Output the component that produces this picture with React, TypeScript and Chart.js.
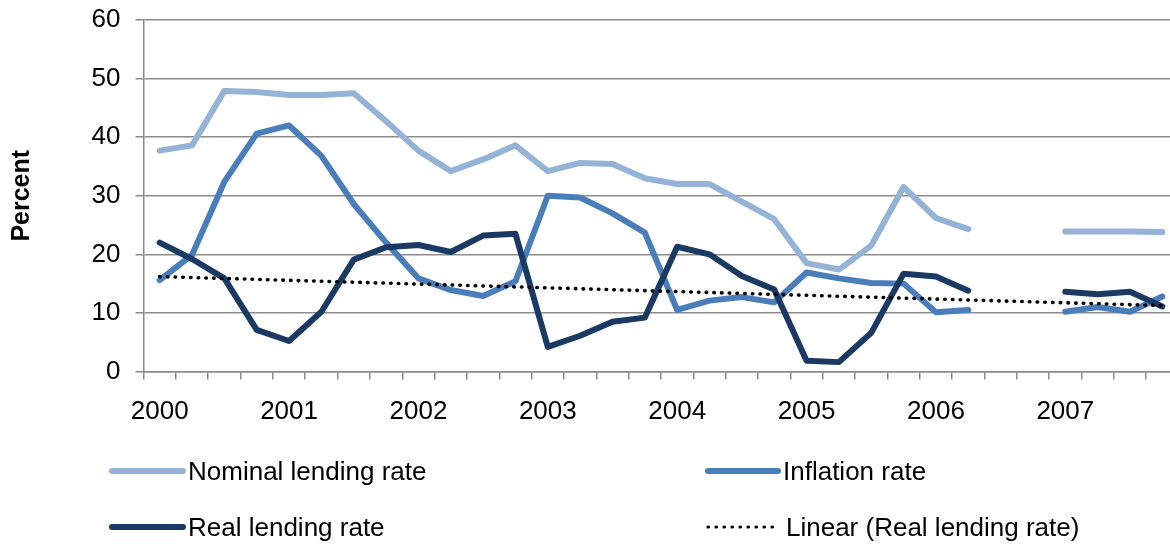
import React, { useEffect, useRef } from 'react';
import { Chart, registerables } from 'chart.js';

Chart.register(...registerables);

const categories = [
  '2000Q1', '2000Q2', '2000Q3', '2000Q4',
  '2001Q1', '2001Q2', '2001Q3', '2001Q4',
  '2002Q1', '2002Q2', '2002Q3', '2002Q4',
  '2003Q1', '2003Q2', '2003Q3', '2003Q4',
  '2004Q1', '2004Q2', '2004Q3', '2004Q4',
  '2005Q1', '2005Q2', '2005Q3', '2005Q4',
  '2006Q1', '2006Q2', '2006Q3', '2006Q4',
  '2007Q1', '2007Q2', '2007Q3', '2007Q4',
];

const yearTickLabels = ['2000', '2001', '2002', '2003', '2004', '2005', '2006', '2007'];

const nominalLendingRate = [
  37.7, 38.6, 47.9, 47.7, 47.2, 47.2, 47.5, 42.7,
  37.7, 34.2, 36.2, 38.6, 34.2, 35.6, 35.4, 33.0,
  32.0, 32.0, 29.0, 26.0, 18.5, 17.4, 21.5, 31.5,
  26.2, 24.3, null, null, 23.9, 23.9, 23.9, 23.8,
];

const inflationRate = [
  15.6, 19.9, 32.4, 40.6, 42.0, 36.8, 28.6, 22.0,
  15.9, 13.9, 12.9, 15.4, 30.0, 29.7, 27.0, 23.7,
  10.5, 12.1, 12.7, 11.8, 16.9, 15.9, 15.1, 15.0,
  10.1, 10.5, null, null, 10.2, 11.0, 10.2, 12.8,
];

const realLendingRate = [
  22.0, 19.2, 15.9, 7.1, 5.2, 10.2, 19.1, 21.2,
  21.6, 20.4, 23.2, 23.5, 4.2, 6.1, 8.5, 9.2,
  21.3, 20.0, 16.3, 14.0, 1.85, 1.6, 6.6, 16.7,
  16.2, 13.8, null, null, 13.6, 13.2, 13.6, 11.1,
];

const linearTrendRealLendingRate = [
  16.2, null, null, null, null, null, null, null,
  null, null, null, null, null, null, null, null,
  null, null, null, null, null, null, null, null,
  null, null, null, null, null, null, null, 11.25,
];

const seriesNames = ['Nominal lending rate', 'Inflation rate', 'Real lending rate', 'Linear (Real lending rate)'];
const seriesColors = ['#95B3D7', '#4A7EBB', '#1B3A63', '#000000'];

const FONT = '"Liberation Sans", Arial, sans-serif';
const GRID = '#8C8C8C';

const legendPlugin = {
  id: 'customLegend',
  afterDraw(chart: any) {
    const ctx = chart.ctx;
    const slots = [
      { i: 0, x0: 112, x1: 183, tx: 188, y: 471, by: 480 },
      { i: 1, x0: 708, x1: 778, tx: 783, y: 471, by: 480 },
      { i: 2, x0: 112, x1: 183, tx: 188, y: 527, by: 536 },
      { i: 3, x0: 708, x1: 775, tx: 786, y: 527, by: 536 },
    ];
    ctx.save();
    slots.forEach((s) => {
      ctx.beginPath();
      ctx.strokeStyle = seriesColors[s.i];
      ctx.lineCap = 'round';
      if (s.i === 3) {
        ctx.lineWidth = 3.2;
        ctx.setLineDash([0.5, 7.5]);
      } else {
        ctx.lineWidth = 6;
        ctx.setLineDash([]);
      }
      ctx.moveTo(s.x0, s.y);
      ctx.lineTo(s.x1, s.y);
      ctx.stroke();
      ctx.setLineDash([]);
      ctx.fillStyle = '#000';
      ctx.font = `26px ${FONT}`;
      ctx.textAlign = 'left';
      ctx.textBaseline = 'alphabetic';
      ctx.fillText(seriesNames[s.i], s.tx, s.by);
    });
    ctx.restore();
  },
};

export default function App() {
  const canvasRef = useRef<HTMLCanvasElement | null>(null);

  useEffect(() => {
    if (!canvasRef.current) return;
    const lineDs = (i: number, data: (number | null)[], order: number) => ({
      label: seriesNames[i],
      data,
      borderColor: seriesColors[i],
      backgroundColor: seriesColors[i],
      borderWidth: 6,
      borderCapStyle: 'round' as const,
      borderJoinStyle: 'round' as const,
      pointRadius: 0,
      pointHoverRadius: 0,
      tension: 0,
      spanGaps: false,
      fill: false,
      order,
    });
    const chart = new Chart(canvasRef.current, {
      type: 'line',
      data: {
        labels: categories,
        datasets: [
          lineDs(0, nominalLendingRate, 3),
          lineDs(1, inflationRate, 2),
          lineDs(2, realLendingRate, 1),
          {
            label: seriesNames[3],
            data: linearTrendRealLendingRate,
            borderColor: '#000000',
            backgroundColor: '#000000',
            borderWidth: 3.6,
            borderDash: [0.5, 7.2],
            borderCapStyle: 'round',
            pointRadius: 0,
            pointHoverRadius: 0,
            spanGaps: true,
            fill: false,
            order: 0,
          },
        ],
      },
      options: {
        responsive: false,
        animation: false,
        layout: { padding: { left: 0, right: 11.5, top: 20, bottom: 0 } },
        plugins: {
          legend: { display: false },
          tooltip: { enabled: false },
        },
        scales: {
          x: {
            type: 'category',
            offset: true,
            afterFit: (scale: any) => {
              scale.height = 544 - 371.5;
              scale.paddingLeft = 0;
              scale.paddingRight = 0;
            },
            grid: {
              display: true,
              drawOnChartArea: false,
              drawTicks: true,
              tickLength: 8,
              offset: true,
              color: GRID,
              lineWidth: 1.5,
            },
            border: { display: true, color: GRID, width: 1.5 },
            ticks: {
              autoSkip: false,
              maxRotation: 0,
              minRotation: 0,
              padding: 17,
              color: '#000',
              font: { family: FONT, size: 26 },
              callback: (_v: any, i: number) => (i % 4 === 0 ? yearTickLabels[i / 4] : ''),
            },
          },
          y: {
            min: 0,
            max: 60,
            afterFit: (scale: any) => {
              scale.width = 143.5;
              scale.paddingTop = 0;
              scale.paddingBottom = 0;
            },
            ticks: {
              stepSize: 10,
              padding: 15,
              color: '#000',
              font: { family: FONT, size: 26, lineHeight: 0.7 },
            },
            grid: {
              color: GRID,
              lineWidth: 1.5,
              tickLength: 8,
              drawTicks: true,
            },
            border: { display: true, color: GRID, width: 1.5 },
            title: {
              display: true,
              text: 'Percent',
              color: '#000',
              font: { family: FONT, size: 25, weight: 'bold' },
              padding: { top: 7, bottom: 0 },
            },
          },
        },
      },
      plugins: [legendPlugin],
    });
    return () => chart.destroy();
  }, []);

  return (
    <div style={{ position: 'fixed', left: 0, top: 0, width: 1170, height: 544, overflow: 'hidden', background: '#fff' }}>
      <canvas ref={canvasRef} width={1190} height={544} style={{ width: 1190, height: 544, display: 'block' }} />
    </div>
  );
}
